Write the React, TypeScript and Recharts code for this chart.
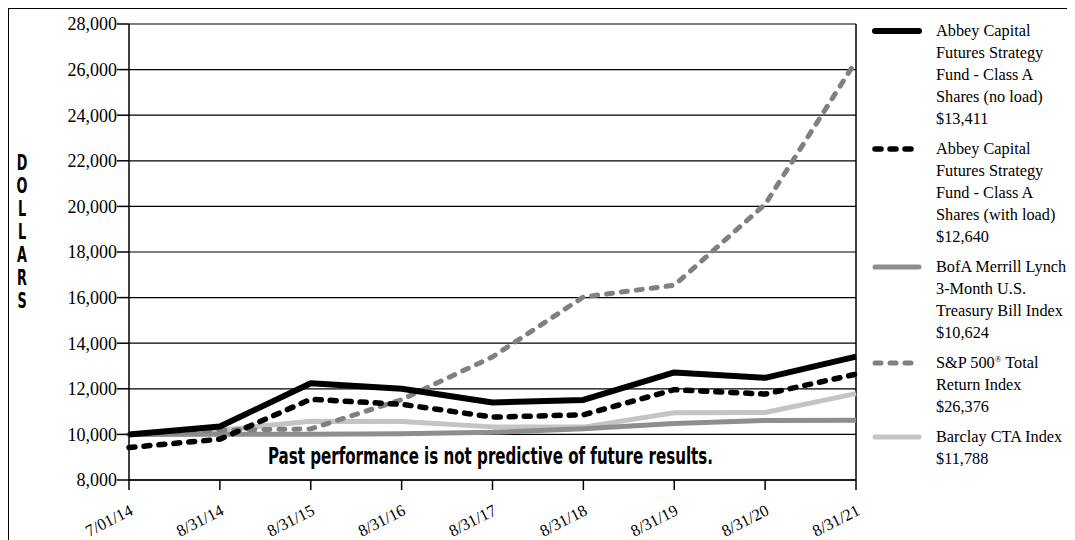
import { CartesianGrid, Line, LineChart, ReferenceLine, XAxis, YAxis } from 'recharts';

// growth of a $10,000 investment, one point per fiscal year end
const dates = ['7/01/14', '8/31/14', '8/31/15', '8/31/16', '8/31/17', '8/31/18', '8/31/19', '8/31/20', '8/31/21'];
const noLoad = [10000, 10350, 12240, 12000, 11400, 11510, 12720, 12480, 13411];
const withLoad = [9425, 9790, 11540, 11320, 10760, 10860, 11960, 11770, 12640];
const tBill = [10000, 10003, 10005, 10030, 10090, 10250, 10480, 10610, 10624];
const sp500 = [10000, 10190, 10240, 11525, 13400, 16030, 16540, 20090, 26376];
const barclay = [10000, 10180, 10580, 10570, 10330, 10320, 10950, 10960, 11788];
const yTicks = [8000, 10000, 12000, 14000, 16000, 18000, 20000, 22000, 24000, 26000, 28000];

const serif = '"Liberation Serif", "Times New Roman", serif';
const narrow = '"Liberation Sans Narrow", "DejaVu Sans Condensed", "Roboto", sans-serif';

interface Series {
  key: string;
  values: number[];
  color: string;
  width: number;
  dash?: string;
  label: string[];
}

// drawn in this order, last on top
const series: Series[] = [
  { key: 'barclay', values: barclay, color: '#c4c4c4', width: 5, label: ['Barclay CTA Index', '$11,788'] },
  { key: 'tBill', values: tBill, color: '#8e8e8e', width: 5, label: ['BofA Merrill Lynch', '3-Month U.S.', 'Treasury Bill Index', '$10,624'] },
  { key: 'sp500', values: sp500, color: '#808081', width: 5, dash: '6 9', label: ['S&P 500\u00ae Total', 'Return Index', '$26,376'] },
  { key: 'withLoad', values: withLoad, color: '#000', width: 5.5, dash: '6 9', label: ['Abbey Capital', 'Futures Strategy', 'Fund - Class A', 'Shares (with load)', '$12,640'] },
  { key: 'noLoad', values: noLoad, color: '#000', width: 6, label: ['Abbey Capital', 'Futures Strategy', 'Fund - Class A', 'Shares (no load)', '$13,411'] },
];

const legendOrder = ['noLoad', 'withLoad', 'tBill', 'sp500', 'barclay'];

const data = dates.map((date, i) => {
  const row: Record<string, string | number> = { date };
  series.forEach((s) => { row[s.key] = s.values[i]; });
  return row;
});

function DateTick({ x, y, payload }: any) {
  return (
    <g transform={`translate(${x + 5},${y + 22}) rotate(-27)`}>
      <text textAnchor="end" style={{ fontFamily: serif }} fontSize={16.5} fill="#000">{payload.value}</text>
    </g>
  );
}

// the registered mark is set small and raised
function LegendLine({ text }: { text: string }) {
  const parts = text.split('\u00ae');
  if (parts.length === 1) return <>{text}</>;
  return (
    <>
      {parts[0]}
      <sup style={{ fontSize: '0.55em', verticalAlign: '0.7em', lineHeight: 0 }}>{'\u00ae'}</sup>
      {parts[1]}
    </>
  );
}

function LegendBlock() {
  return (
    <div style={{ position: 'absolute', left: 863, top: 11, fontFamily: serif, fontSize: 16.3, lineHeight: '22px', color: '#000' }}>
      {legendOrder.map((key) => {
        const s = series.find((item) => item.key === key)!;
        return (
          <div key={key} style={{ display: 'flex', marginBottom: 8 }}>
            <svg width={64} height={22} style={{ flexShrink: 0 }}>
              <line x1={3} x2={47} y1={11} y2={11} stroke={s.color} strokeWidth={s.width}
                strokeDasharray={s.dash} strokeLinecap="round" />
            </svg>
            <div>
              {s.label.map((line) => (
                <div key={line} style={{ whiteSpace: 'nowrap', height: 22 }}><LegendLine text={line} /></div>
              ))}
            </div>
          </div>
        );
      })}
    </div>
  );
}

export default function App() {
  return (
    <div style={{ position: 'relative', width: 1067, height: 532, borderTop: '1px solid #000', borderLeft: '1px solid #000' }}>
      <LineChart width={1066} height={531} data={data} margin={{ top: 15, right: 219, bottom: 10, left: 60 }}>
        <CartesianGrid vertical={false} stroke="#000" strokeWidth={1.2} />
        <XAxis
          dataKey="date"
          interval={0}
          tickSize={10}
          height={50}
          axisLine={{ stroke: '#000', strokeWidth: 1.5 }}
          tickLine={{ stroke: '#000', strokeWidth: 1.5 }}
          tick={<DateTick />}
        />
        <YAxis
          domain={[8000, 28000]}
          ticks={yTicks}
          interval={0}
          width={60}
          tickSize={12}
          tickMargin={0}
          axisLine={{ stroke: '#000', strokeWidth: 1.5 }}
          tickLine={{ stroke: '#000', strokeWidth: 1.5 }}
          tick={{ fill: '#000', fontSize: 18, fontFamily: serif }}
          tickFormatter={(v) => Number(v).toLocaleString('en-US')}
        />
        <ReferenceLine x={dates[dates.length - 1]} stroke="#000" strokeWidth={1.5} />
        {series.map((s) => (
          <Line
            key={s.key}
            type="linear"
            dataKey={s.key}
            stroke={s.color}
            strokeWidth={s.width}
            strokeDasharray={s.dash}
            strokeLinecap={s.dash ? 'round' : 'butt'}
            strokeLinejoin="round"
            dot={false}
            activeDot={false}
            isAnimationActive={false}
          />
        ))}
      </LineChart>
      <svg width={1066} height={531} style={{ position: 'absolute', left: 0, top: 0, pointerEvents: 'none' }}>
        {'DOLLARS'.split('').map((ch, i) => (
          <text key={i} transform={`translate(13,${161 + i * 23}) scale(0.68,1)`} textAnchor="middle"
            fontFamily={narrow} fontWeight={700} fontSize={21} fill="#000">{ch}</text>
        ))}
        <text x={259} y={455} textLength={445} lengthAdjust="spacingAndGlyphs" fontFamily={narrow} fontWeight={700} fontSize={23} fill="#000">
          Past performance is not predictive of future results.
        </text>
      </svg>
      <LegendBlock />
    </div>
  );
}
